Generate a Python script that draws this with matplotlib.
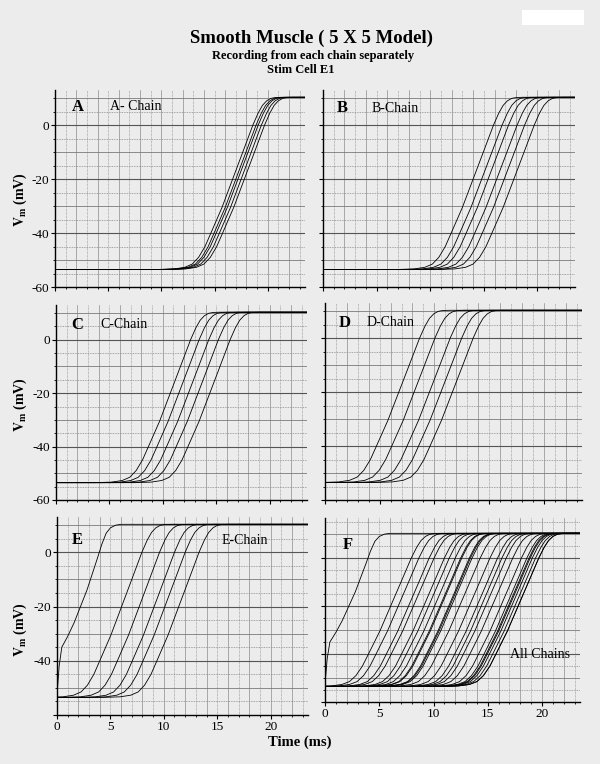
import matplotlib
matplotlib.use('Agg')
import matplotlib.pyplot as plt
from matplotlib.patches import Rectangle

plt.rcParams['font.family'] = ['Liberation Serif', 'DejaVu Serif']
plt.rcParams['mathtext.fontset'] = 'stix'

# action potential shape (time relative to the -20 mV crossing)
shape_dt = [-7.0, -5.5, -4.5, -3.8, -3.2, -2.6, -2.1, -1.0, 0.0, 1.0, 1.9, 2.4, 2.8, 3.2, 3.6, 4.0, 4.6]
shape_v = [-53.5, -53.3, -52.7, -51.5, -49.0, -45.0, -40.5, -30.5, -20.0, -9.5, 0.0, 4.5, 7.3, 9.0, 9.9, 10.2, 10.3]

# -20 mV crossing time (ms) of each cell, per chain
delays_a = [16.7, 17.0, 17.2, 17.5, 17.8]
delays_b = [14.0, 14.8, 15.4, 16.2, 16.9, 17.8]
delays_c = [10.7, 11.5, 12.4, 13.3, 14.4]
delays_d = [6.75, 8.15, 9.55, 10.6, 11.65]
delays_e = [6.05, 7.7, 9.1, 10.1, 11.4]

# stimulated cell E1
e1_t = [0.0, 0.05, 0.2, 0.45, 1.0, 1.6, 2.2, 2.8, 3.3, 3.8, 4.2, 4.6, 5.0, 5.5, 6.0, 30.0]
e1_v = [-54.0, -50.0, -42.0, -35.0, -31.0, -26.0, -20.0, -14.0, -8.0, -2.0, 3.0, 7.0, 9.0, 10.0, 10.3, 10.3]

x_ticks = [0, 5, 10, 15, 20]
y_ticks = [0, -20, -40, -60]


def make_curve(d):
    t = [-5.0] + [d + s for s in shape_dt] + [30.0]
    v = [shape_v[0]] + shape_v + [shape_v[-1]]
    return t, v


def draw_grid(ax, ytop):
    for k in range(1, 24):
        ls = '-' if k % 2 == 0 else (0, (1, 1))
        ax.axvline(k, color='#8c8c8c', lw=0.5, ls=ls, zorder=0)
    for lv in range(-55, int(ytop) + 1, 5):
        if lv % 20 == 0:
            ax.axhline(lv, color='#555555', lw=0.8, zorder=0)
        elif lv % 10 == 0:
            ax.axhline(lv, color='#7a7a7a', lw=0.6, zorder=0)
        else:
            ax.axhline(lv, color='#8c8c8c', lw=0.6, ls=(0, (1, 1)), zorder=0)


def px(x, y):
    return x / 600, 1 - y / 764


bg = '#ececec'
fig = plt.figure(figsize=(6, 7.64), dpi=100, facecolor=bg)

boxes = {
    'A': (55, 90, 305, 287),
    'B': (323, 90, 575, 287),
    'C': (56, 305, 307, 500),
    'D': (325, 303, 582, 500),
    'E': (57, 517, 308, 715),
    'F': (325, 518, 580, 702),
}
chains = {'A': delays_a, 'B': delays_b, 'C': delays_c, 'D': delays_d, 'E': delays_e}

axes = {}
for key, (x0, y0, x1, y1) in boxes.items():
    ax = fig.add_axes([x0 / 600, 1 - y1 / 764, (x1 - x0) / 600, (y1 - y0) / 764])
    ax.set_facecolor(bg)
    ytop = 16.7 if key == 'F' else 13
    ax.set_xlim(0, 23.5)
    ax.set_ylim(-60, ytop)
    draw_grid(ax, ytop)
    for s in ['top', 'right']:
        ax.spines[s].set_visible(False)
    ax.spines['left'].set_linewidth(1.0)
    ax.spines['bottom'].set_linewidth(1.0)
    ax.set_yticks(y_ticks)
    ax.set_yticks(range(-55, 11, 5), minor=True)
    ax.set_xticks(x_ticks)
    ax.set_xticks(range(0, 24), minor=True)
    ax.tick_params(which='major', length=3, width=0.8, labelsize=9.5, pad=1.5)
    ax.tick_params(which='minor', length=1.5, width=0.6)
    if key in ('A', 'C'):
        ax.set_yticklabels([str(v) for v in y_ticks])
    elif key == 'E':
        ax.set_yticklabels(['0', '-20', '-40', ''])
    else:
        ax.set_yticklabels([])
    if key not in ('E', 'F'):
        ax.set_xticklabels([])
    axes[key] = ax

# separate chains
for key, dl in chains.items():
    ax = axes[key]
    for d in dl:
        t, v = make_curve(d)
        ax.plot(t, v, color='black', lw=0.6)
axes['E'].plot(e1_t, e1_v, color='black', lw=0.6)

# all chains together
axF = axes['F']
for key, dl in chains.items():
    for d in dl:
        t, v = make_curve(d)
        axF.plot(t, v, color='black', lw=0.6)
axF.plot(e1_t, e1_v, color='black', lw=0.6)

# panel letters and labels
letters = [('A', 78, 107), ('B', 342, 108), ('C', 77, 325), ('D', 345, 323), ('E', 77, 540), ('F', 348, 545)]
for s, x, y in letters:
    fig.text(*px(x, y), s, ha='center', va='center', fontsize=12, fontweight='bold')
names = [('A- Chain', 110, 107), ('B-Chain', 372, 108), ('C-Chain', 100, 325),
         ('D-Chain', 367, 323), ('E-Chain', 222, 540), ('All Chains', 510, 654)]
for s, x, y in names:
    fig.text(*px(x, y), s, ha='left', va='center', fontsize=10)

for y in (200, 405, 630):
    fig.text(*px(20, y), r'$\mathbf{V_m}$ (mV)', rotation=90, ha='center', va='center',
             fontsize=10, fontweight='bold')

fig.text(*px(300, 742), 'Time (ms)', ha='center', va='center', fontsize=10.5, fontweight='bold')

fig.text(*px(312, 38), 'Smooth Muscle ( 5 X 5 Model)', ha='center', va='center', fontsize=13.5, fontweight='bold')
fig.text(*px(313, 56), 'Recording from each chain separately', ha='center', va='center', fontsize=9, fontweight='bold')
fig.text(*px(301, 70), 'Stim Cell E1', ha='center', va='center', fontsize=9, fontweight='bold')

fig.patches.append(Rectangle(px(522, 25), 62 / 600, 15 / 764, transform=fig.transFigure,
                             facecolor='white', edgecolor='none'))

fig.savefig('out.png', dpi=100, facecolor=bg)
